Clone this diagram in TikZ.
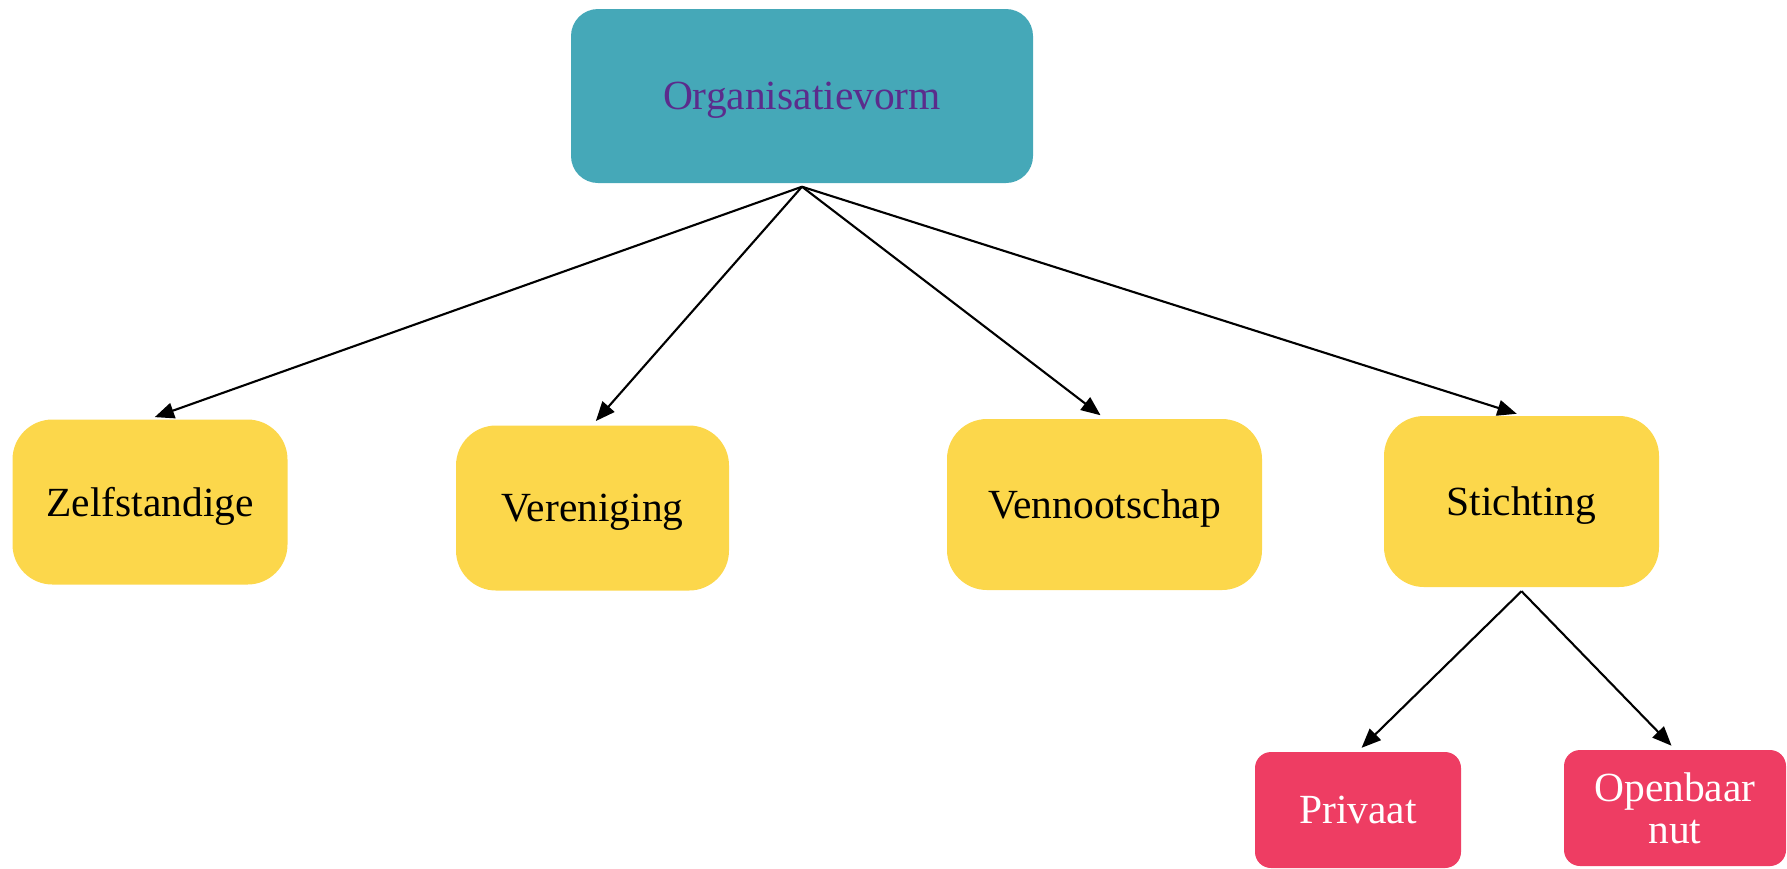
\documentclass[tikz,border=0pt]{standalone}
\usepackage{fontspec}
\setmainfont{Liberation Serif}
\usetikzlibrary{arrows.meta,positioning}
\definecolor{tealbox}{HTML}{45A8B8}
\definecolor{purpletext}{HTML}{5B2C8C}
\definecolor{yellowbox}{HTML}{FCD74B}
\definecolor{pinkbox}{HTML}{EE3D63}
\tikzset{
    topbox/.style={fill=tealbox, text=purpletext, rounded corners=0.27cm, minimum width=4.62cm, minimum height=1.74cm, inner sep=0pt, text depth=0pt},
    formbox/.style={fill=yellowbox, text=black, rounded corners=0.4cm, minimum height=1.65cm, inner sep=0pt, text depth=0pt},
    subbox/.style={fill=pinkbox, text=white, rounded corners=0.16cm, minimum height=1.16cm, inner sep=0pt, align=center},
    link/.style={-{Triangle[length=5.5pt,width=4.5pt]}, line width=0.6pt, shorten >=0.05cm}
}

\begin{document}
\begin{tikzpicture}[font=\fontsize{11.8}{14}\selectfont]
    \useasboundingbox (0, 0) rectangle (17.87, -8.68);

    \node[topbox] (org) at (8.02, -0.96) {Organisatievorm};

    \node[formbox, minimum width=2.75cm] (zelf) at (1.50, -5.02) {Zelfstandige};
    \node[formbox, minimum width=2.73cm] (ver) at (5.925, -5.08) {Vereniging};
    \node[formbox, minimum width=3.15cm, minimum height=1.71cm] (venn) at (11.045, -5.045) {Vennootschap};
    \node[formbox, minimum width=2.75cm, minimum height=1.71cm] (sticht) at (15.215, -5.015) {Stichting};

    \node[subbox, minimum width=2.06cm] (priv) at (13.58, -8.10) {Privaat};
    \node[subbox, minimum width=2.22cm] (open) at (16.75, -8.08) {Openbaar\\[-2pt]nut};

    % meeting points just below the boxes
    \coordinate (orgtip) at ([yshift=-0.03cm]org.south);
    \coordinate (stichttip) at ([yshift=-0.035cm]sticht.south);

    \draw[link] (orgtip) -- (zelf.north);
    \draw[link] (orgtip) -- (ver.north);
    \draw[link] (orgtip) -- (venn.north);
    \draw[link] (orgtip) -- (sticht.north);

    \draw[link] (stichttip) -- (priv.north);
    \draw[link] (stichttip) -- (open.north);
\end{tikzpicture}
\end{document}
